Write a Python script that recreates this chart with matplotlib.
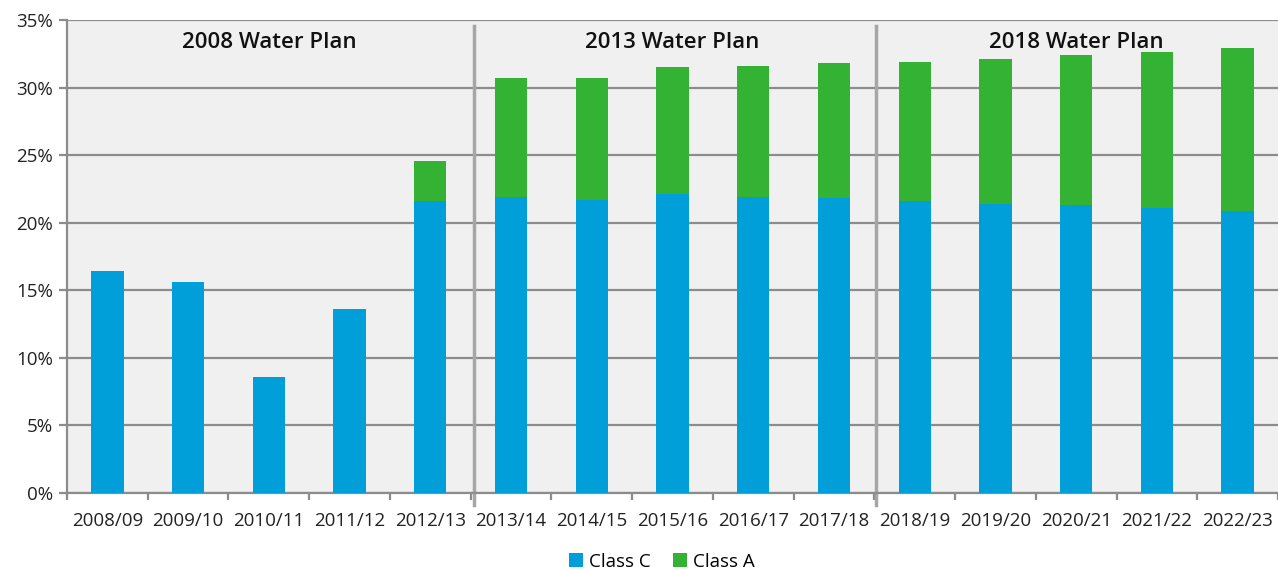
import numpy as np
import matplotlib.pyplot as plt
from matplotlib.ticker import FuncFormatter

years = ['2008/09', '2009/10', '2010/11', '2011/12', '2012/13',
         '2013/14', '2014/15', '2015/16', '2016/17', '2017/18',
         '2018/19', '2019/20', '2020/21', '2021/22', '2022/23']
class_c = [16.4, 15.6, 8.6, 13.6, 21.6,
           21.9, 21.7, 22.1, 21.9, 21.8,
           21.6, 21.4, 21.3, 21.1, 20.9]
class_a = [0.0, 0.0, 0.0, 0.0, 3.0,
           8.8, 9.0, 9.45, 9.7, 10.0,
           10.3, 10.7, 11.1, 11.55, 12.0]
plans = ['2008 Water Plan', '2013 Water Plan', '2018 Water Plan']
plan_centers = [2, 7, 12]
plan_breaks = [4.545, 9.525]

plt.rcParams['font.family'] = ['Open Sans', 'DejaVu Sans']

fig = plt.figure(figsize=(12.78, 5.71), dpi=100)
ax = fig.add_axes([67 / 1278, 1 - 493 / 571, 1 - 67 / 1278, (493 - 20) / 571])
ax.set_facecolor('#f0f0f0')

x = np.arange(len(years))
ax.bar(x, class_c, width=0.4, color='#009fda', label='Class C', zorder=3)
ax.bar(x, class_a, width=0.4, bottom=class_c, color='#34b233', label='Class A', zorder=3)

ax.set_ylim(0, 35)
ax.set_xlim(-0.5, 14.3)
ax.set_yticks(np.arange(0, 36, 5))
ax.yaxis.set_major_formatter(FuncFormatter(lambda v, p: f'{v:.0f}%'))
ax.grid(axis='y', color='#8c8c8c', lw=1.6, zorder=1)
ax.set_axisbelow(True)

ax.set_xticks(x)
ax.set_xticklabels(years)
ax.set_xticks(np.arange(-0.5, 14.6, 1), minor=True)
ax.tick_params(axis='x', which='major', length=0, pad=14, labelsize=13.5, labelcolor='#222222')
ax.tick_params(axis='x', which='minor', length=5, width=1.6, color='#8c8c8c')
ax.tick_params(axis='y', length=6, width=1.6, color='#8c8c8c', labelsize=13.5,
               labelcolor='#222222', pad=4)

for s in ['top', 'right']:
    ax.spines[s].set_visible(False)
for s in ['left', 'bottom']:
    ax.spines[s].set_color('#8c8c8c')
    ax.spines[s].set_linewidth(1.6)

# separators between water plans
for b in plan_breaks:
    ax.plot([b, b], [34.55, -0.9], color='#a6a6a6', lw=2.5, zorder=2, clip_on=False)

for name, c in zip(plans, plan_centers):
    ax.text(c, 33.3, name, ha='center', va='center', fontsize=16,
            fontweight='semibold', color='#111111', zorder=4)

fig.legend(loc='upper center', bbox_to_anchor=(0.518, 0.045), ncol=2, frameon=False,
           fontsize=13.5, handlelength=0.75, handleheight=0.75, handletextpad=0.3,
           columnspacing=1.2, borderaxespad=0)

fig.savefig('out.png', dpi=100)
